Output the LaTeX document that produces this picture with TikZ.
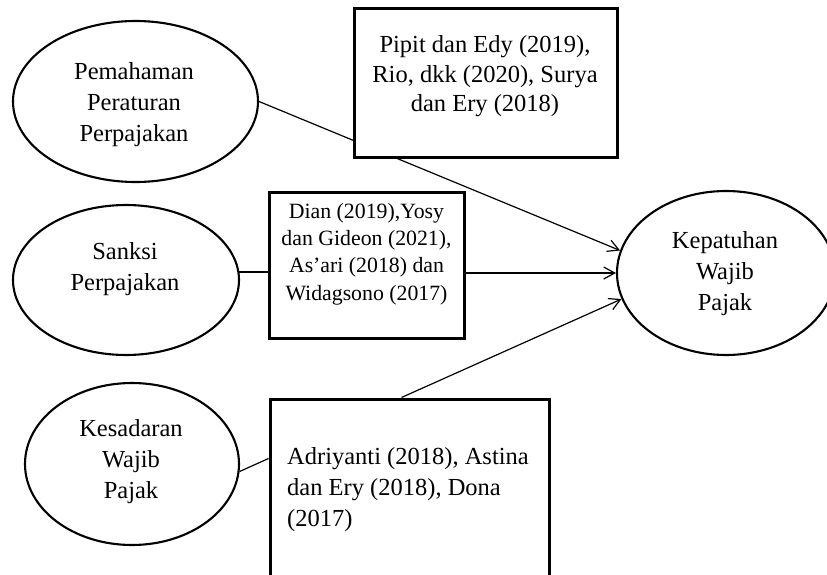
\documentclass[tikz,border=0pt]{standalone}
\usepackage{fontspec}
\setmainfont{Liberation Serif}
\usetikzlibrary{arrows.meta,calc,backgrounds,shapes.geometric}

\begin{document}
\begin{tikzpicture}[x=1pt,y=-1pt,
  oval/.style={ellipse, draw, line width=2.1pt, inner sep=0pt, fill=white},
  refbox/.style={rectangle, draw, line width=3pt, inner sep=0pt, fill=white},
  lbl/.style={inner sep=0pt, align=center, font=\fontsize{24.5}{31}\selectfont},
  lblsmall/.style={inner sep=0pt, align=center, font=\fontsize{21.8}{27.3}\selectfont},
  link/.style={line width=1.2pt},
  flow/.style={link, -{Straight Barb[length=11pt,width=12pt]}}
]
\useasboundingbox (0,0) rectangle (827,575);
\clip (0,0) rectangle (827,575);

% variables (ellipses)
\node[oval, minimum width=245pt, minimum height=161pt] (pem) at (135.5,101.5) {};
\node[oval, minimum width=226pt, minimum height=150pt] (sanksi) at (126,280) {};
\node[oval, minimum width=214pt, minimum height=162pt] (kes) at (132,464) {};
\node[oval, minimum width=218pt, minimum height=164pt] (kep) at (726,273) {};

% reference boxes
\node[refbox, minimum width=263pt, minimum height=148pt] (top) at (485.5,83) {};
\node[refbox, minimum width=195pt, minimum height=146pt] (mid) at (366.5,265) {};
\node[refbox, minimum width=279pt, minimum height=221pt] (bot) at (409.5,509.5) {};

% texts
\node[lbl] (pemT) at (134,105) {Pemahaman\\Peraturan\\Perpajakan};
\node[lbl] (sanksiT) at (125,269) {Sanksi\\Perpajakan};
\node[lbl] (kesT) at (131,462) {Kesadaran\\Wajib\\Pajak};
\node[lbl] (kepT) at (725,274) {Kepatuhan\\Wajib\\Pajak};
\node[lbl, font=\fontsize{24.5}{29.5}\selectfont] (topT) at (485,76.5)
  {Pipit dan Edy (2019),\\Rio, dkk (2020), Surya\\dan Ery (2018)};
\node[lblsmall] (midT) at (366.5,254)
  {Dian (2019),Yosy\\dan Gideon (2021),\\As’ari (2018) dan\\Widagsono (2017)};
\node[lbl, align=left, anchor=west] (botT) at (287,490)
  {Adriyanti (2018), Astina\\dan Ery (2018), Dona\\(2017)};

% connectors, kept behind the boxes
\begin{scope}[on background layer]
  \coordinate (botIn) at ($(bot.north west)+(0,61)$);
  \coordinate (botOut) at ($(bot.north west)+(133,0)$);
  \draw[flow] (pem.east) -- (kep.168.5);
  \draw[link] (sanksi.4) -- (sanksi.4 -| mid.west);
  \draw[flow] (mid.east |- kep.west) -- (kep.west);
  \draw[link] (kes.-4) -- (botIn);
  \draw[flow] (botOut) -- (kep.194);
\end{scope}
\end{tikzpicture}
\end{document}
